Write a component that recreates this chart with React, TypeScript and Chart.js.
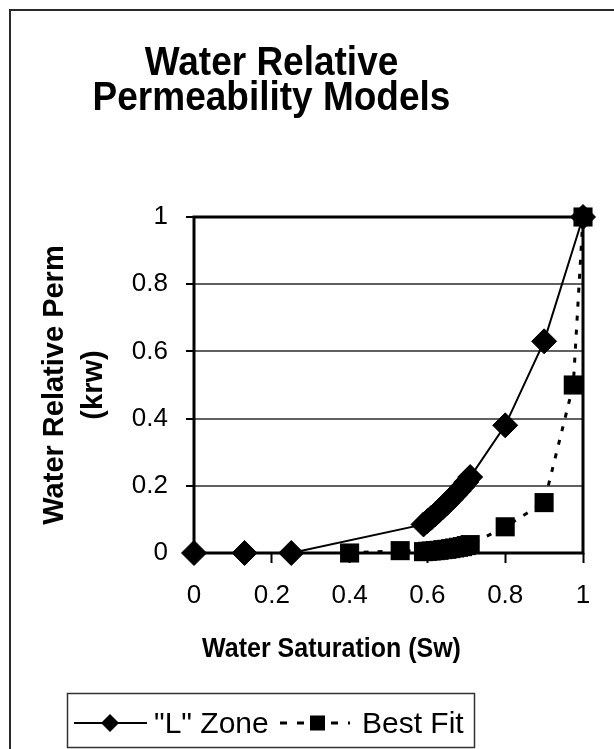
import React, { useEffect, useRef } from 'react';
import { Chart, registerables } from 'chart.js';

Chart.register(...registerables);

const titleLines = ['Water Relative', 'Permeability Models'];
const xAxisTitle = 'Water Saturation (Sw)';
const yAxisTitle = ['Water Relative Perm', '(krw)'];
const seriesNames = ['"L" Zone', 'Best Fit'];

const lZoneSw = [0, 0.13, 0.25, 0.59, 0.6, 0.61, 0.62, 0.63, 0.64, 0.65, 0.66, 0.67, 0.68, 0.69, 0.7, 0.71, 0.8, 0.9, 1];
const lZoneKrw = [0, 0, 0, 0.085, 0.095, 0.105, 0.115, 0.126, 0.137, 0.148, 0.16, 0.172, 0.184, 0.197, 0.211, 0.226, 0.38, 0.63, 1];

const bestFitSw = [0.4, 0.53, 0.59, 0.6, 0.61, 0.62, 0.63, 0.64, 0.65, 0.66, 0.67, 0.68, 0.69, 0.7, 0.71, 0.8, 0.9, 0.975, 1];
const bestFitKrw = [0, 0.007, 0.004, 0.005, 0.006, 0.007, 0.008, 0.01, 0.011, 0.013, 0.015, 0.017, 0.019, 0.022, 0.025, 0.078, 0.15, 0.5, 1];

const xTicks = [0, 0.2, 0.4, 0.6, 0.8, 1];
const xTickLabels = ['0', '0.2', '0.4', '0.6', '0.8', '1'];
const yTicks = [0, 0.2, 0.4, 0.6, 0.8, 1];
const yTickLabels = ['0', '0.2', '0.4', '0.6', '0.8', '1'];

const FONT = '"Liberation Sans", Arial, Helvetica, sans-serif';

function stretchedText(ctx: CanvasRenderingContext2D, text: string, x: number, y: number, sy: number) {
  ctx.save();
  ctx.translate(x, y);
  ctx.scale(1, sy);
  ctx.fillText(text, 0, 0);
  ctx.restore();
}

const decorPlugin = {
  id: 'decor',
  beforeDraw(chart: any) {
    const ctx = chart.ctx as CanvasRenderingContext2D;
    ctx.save();
    ctx.fillStyle = '#ffffff';
    ctx.fillRect(0, 0, chart.width, chart.height);
    ctx.strokeStyle = '#2a2a2a';
    ctx.lineWidth = 2;
    ctx.strokeRect(10, 10, 900, 900);
    ctx.restore();
  },
  beforeDatasetsDraw(chart: any) {
    const ctx = chart.ctx as CanvasRenderingContext2D;
    const a = chart.chartArea;
    ctx.save();
    ctx.strokeStyle = '#000000';
    ctx.lineWidth = 3;
    ctx.strokeRect(a.left, a.top, a.right - a.left, a.bottom - a.top);
    ctx.restore();
  },
  afterDraw(chart: any) {
    const ctx = chart.ctx as CanvasRenderingContext2D;
    ctx.save();
    ctx.fillStyle = '#000000';
    // Title
    ctx.font = `bold 37px ${FONT}`;
    ctx.textAlign = 'center';
    ctx.textBaseline = 'alphabetic';
    stretchedText(ctx, titleLines[0], 271.5, 75, 1.1);
    stretchedText(ctx, titleLines[1], 271.5, 110, 1.1);
    // X axis title
    ctx.font = `bold 25px ${FONT}`;
    stretchedText(ctx, xAxisTitle, 331.5, 657, 1.12);

    // Legend box
    ctx.strokeStyle = '#333333';
    ctx.lineWidth = 1.5;
    ctx.strokeRect(67.5, 693.5, 407, 54);

    const ly = 723;
    const ds0 = chart.data.datasets[0];
    const ds1 = chart.data.datasets[1];
    // L Zone sample
    ctx.strokeStyle = ds0.borderColor;
    ctx.lineWidth = 2;
    ctx.beginPath();
    ctx.moveTo(74, ly);
    ctx.lineTo(147, ly);
    ctx.stroke();
    ctx.beginPath();
    const d = 9;
    ctx.moveTo(110 - d, ly);
    ctx.lineTo(110, ly - d);
    ctx.lineTo(110 + d, ly);
    ctx.lineTo(110, ly + d);
    ctx.closePath();
    ctx.fillStyle = ds0.pointBackgroundColor;
    ctx.fill();
    // Best Fit sample
    ctx.strokeStyle = ds1.borderColor;
    ctx.lineWidth = 3;
    ctx.setLineDash([7, 10]);
    ctx.beginPath();
    ctx.moveTo(280, ly);
    ctx.lineTo(350, ly);
    ctx.stroke();
    ctx.setLineDash([]);
    ctx.fillStyle = ds1.pointBackgroundColor;
    ctx.fillRect(310, ly - 7.5, 15, 15);

    ctx.fillStyle = '#000000';
    ctx.font = `30px ${FONT}`;
    ctx.textAlign = 'left';
    ctx.fillText(seriesNames[0], 154, 733);
    ctx.fillText(seriesNames[1], 362, 733);
    ctx.restore();
  },
};

export default function App() {
  const ref = useRef<HTMLCanvasElement | null>(null);

  useEffect(() => {
    if (!ref.current) return;
    const chart = new Chart(ref.current, {
      type: 'line',
      data: {
        datasets: [
          {
            label: seriesNames[0],
            data: lZoneSw.map((x, i) => ({ x, y: lZoneKrw[i] })),
            borderColor: '#000000',
            borderWidth: 2,
            pointStyle: 'rectRot',
            pointRadius: 12.5,
            pointBorderWidth: 1,
            pointBackgroundColor: '#000000',
            pointBorderColor: '#000000',
            tension: 0,
            clip: false,
          },
          {
            label: seriesNames[1],
            data: bestFitSw.map((x, i) => ({ x, y: bestFitKrw[i] })),
            borderColor: '#000000',
            borderWidth: 3,
            borderDash: [5, 9],
            pointStyle: 'rect',
            pointRadius: 13.5,
            pointBorderWidth: 0,
            pointBackgroundColor: '#000000',
            pointBorderColor: '#000000',
            tension: 0,
            clip: false,
          },
        ] as any,
      },
      plugins: [decorPlugin],
      options: {
        animation: false,
        responsive: false,
        devicePixelRatio: 1,
        layout: { padding: { top: 217, right: 31, left: 0, bottom: 0 } },
        plugins: {
          legend: { display: false },
          title: { display: false },
          tooltip: { enabled: false },
        },
        scales: {
          x: {
            type: 'linear',
            min: 0,
            max: 1,
            afterBuildTicks: (s: any) => {
              s.ticks = xTicks.map((v) => ({ value: v }));
            },
            afterFit: (s: any) => {
              s.height = 196;
            },
            ticks: {
              callback: (_v: any, i: number) => xTickLabels[i],
              font: { family: FONT, size: 26 },
              color: '#000000',
              padding: 17,
              maxRotation: 0,
              autoSkip: false,
            },
            grid: {
              drawOnChartArea: false,
              drawTicks: true,
              tickLength: 10,
              tickColor: '#000000',
              tickWidth: 2,
            },
            border: { display: false },
          },
          y: {
            type: 'linear',
            min: 0,
            max: 1,
            afterBuildTicks: (s: any) => {
              s.ticks = yTicks.map((v) => ({ value: v }));
            },
            afterFit: (s: any) => {
              s.width = 194;
            },
            ticks: {
              callback: (_v: any, i: number) => yTickLabels[i],
              font: { family: FONT, size: 26 },
              color: '#000000',
              padding: 18,
              autoSkip: false,
            },
            grid: {
              color: '#606060',
              lineWidth: 2,
              drawTicks: true,
              tickLength: 8,
              tickColor: '#000000',
              tickWidth: 2,
            },
            border: { display: false },
            title: {
              display: true,
              text: yAxisTitle,
              color: '#000000',
              font: { family: FONT, size: 29, weight: 'bold', lineHeight: 1.35 },
              padding: { top: 35, bottom: 0 },
            },
          },
        },
      } as any,
    });
    return () => chart.destroy();
  }, []);

  return (
    <div style={{ position: 'absolute', left: 0, top: 0, width: 614, height: 749 }}>
      <canvas ref={ref} width={614} height={749} style={{ display: 'block', width: 614, height: 749 }} />
    </div>
  );
}
